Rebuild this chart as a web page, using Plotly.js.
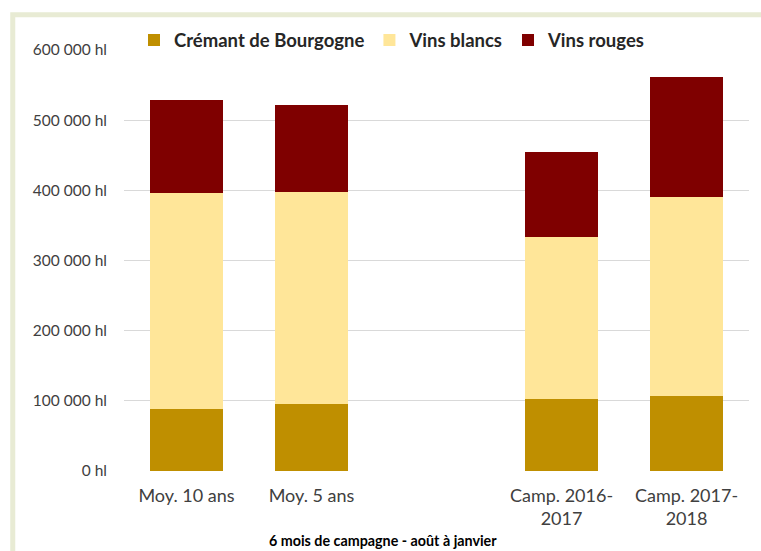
<!DOCTYPE html>
<html>
<head>
<meta charset="utf-8">
<script src="https://cdn.plot.ly/plotly-3.0.1.min.js"></script>
<style>
  body { margin: 0; background: #fff; }
  #myDiv { width: 761px; height: 551px; }
</style>
</head>
<body>
<div id="myDiv"></div>
<script>
// slots: the third one is left empty, like in the original sheet
var slots = [0, 1, 2, 3, 4];
var labels = ["Moy. 10 ans", "Moy. 5 ans", "", "Camp. 2016-<br>2017", "Camp. 2017-<br>2018"];

var cremant = [88000, 95000, null, 102000, 107000];
var blancs = [308000, 302000, null, 232000, 284000];
var rouges = [133000, 124000, null, 121000, 171000];

var yTicks = [0, 100000, 200000, 300000, 400000, 500000, 600000];

// "600 000 hl" style labels
var fmt = (v) => {
  var s = String(v);
  var out = "";
  for (var k = 0; k < s.length; k++) {
    if (k > 0 && (s.length - k) % 3 === 0) out += " ";
    out += s[k];
  }
  return out + " hl";
};
var yText = yTicks.map(fmt);

var font = "Lato, 'Open Sans', sans-serif";

var makeTrace = (name, values, color) => {
  return {
    type: "bar",
    name: name,
    x: slots,
    y: values,
    width: 0.585,
    marker: { color: color, line: { width: 0 } },
    hoverinfo: "skip",
  };
};

var data = [
  makeTrace("Crémant de Bourgogne", cremant, "#bf8f00"),
  makeTrace("Vins blancs", blancs, "#ffe699"),
  makeTrace("Vins rouges", rouges, "#7f0000"),
];

var layout = {
  width: 761,
  height: 551,
  barmode: "stack",
  paper_bgcolor: "#ffffff",
  plot_bgcolor: "#ffffff",
  font: { family: font, color: "#404040" },
  margin: { l: 124, r: 12, t: 50, b: 80, pad: 0 },
  showlegend: true,
  legend: {
    orientation: "h",
    x: 0.016,
    xanchor: "left",
    y: 1.068,
    yanchor: "top",
    font: { family: font, size: 18.5, color: "#262626", weight: "bold" },
    itemwidth: 30,
    traceorder: "normal",
    bgcolor: "rgba(0,0,0,0)",
  },
  xaxis: {
    range: [-0.5, 4.5],
    tickvals: slots,
    ticktext: labels,
    showgrid: false,
    zeroline: false,
    showline: false,
    ticks: "",
    ticklabelstandoff: 12,
    tickfont: { family: font, size: 18, color: "#404040" },
  },
  yaxis: {
    range: [0, 600000],
    tickvals: yTicks,
    ticktext: yText,
    showgrid: true,
    gridcolor: "#d9d9d9",
    gridwidth: 1,
    zeroline: false,
    showline: false,
    ticks: "",
    ticklabelstandoff: 16,
    tickfont: { family: font, size: 15.5, color: "#404040" },
  },
  annotations: [
    {
      text: "<b>6 mois de campagne - août à janvier</b>",
      xref: "paper",
      yref: "paper",
      x: 0.414,
      y: -0.164,
      xanchor: "center",
      yanchor: "middle",
      showarrow: false,
      font: { family: font, size: 14.3, color: "#000000" },
    },
  ],
  shapes: [
    {
      // green frame of the original chart area
      type: "rect",
      xref: "paper",
      yref: "paper",
      x0: -0.178,
      x1: 1.2,
      y0: -0.3,
      y1: 1.084,
      line: { color: "#e8ebd4", width: 5 },
      layer: "below",
    },
  ],
};

document.addEventListener("DOMContentLoaded", () => {
  Plotly.newPlot("myDiv", data, layout, { displayModeBar: false, staticPlot: true });
});
</script>
</body>
</html>
